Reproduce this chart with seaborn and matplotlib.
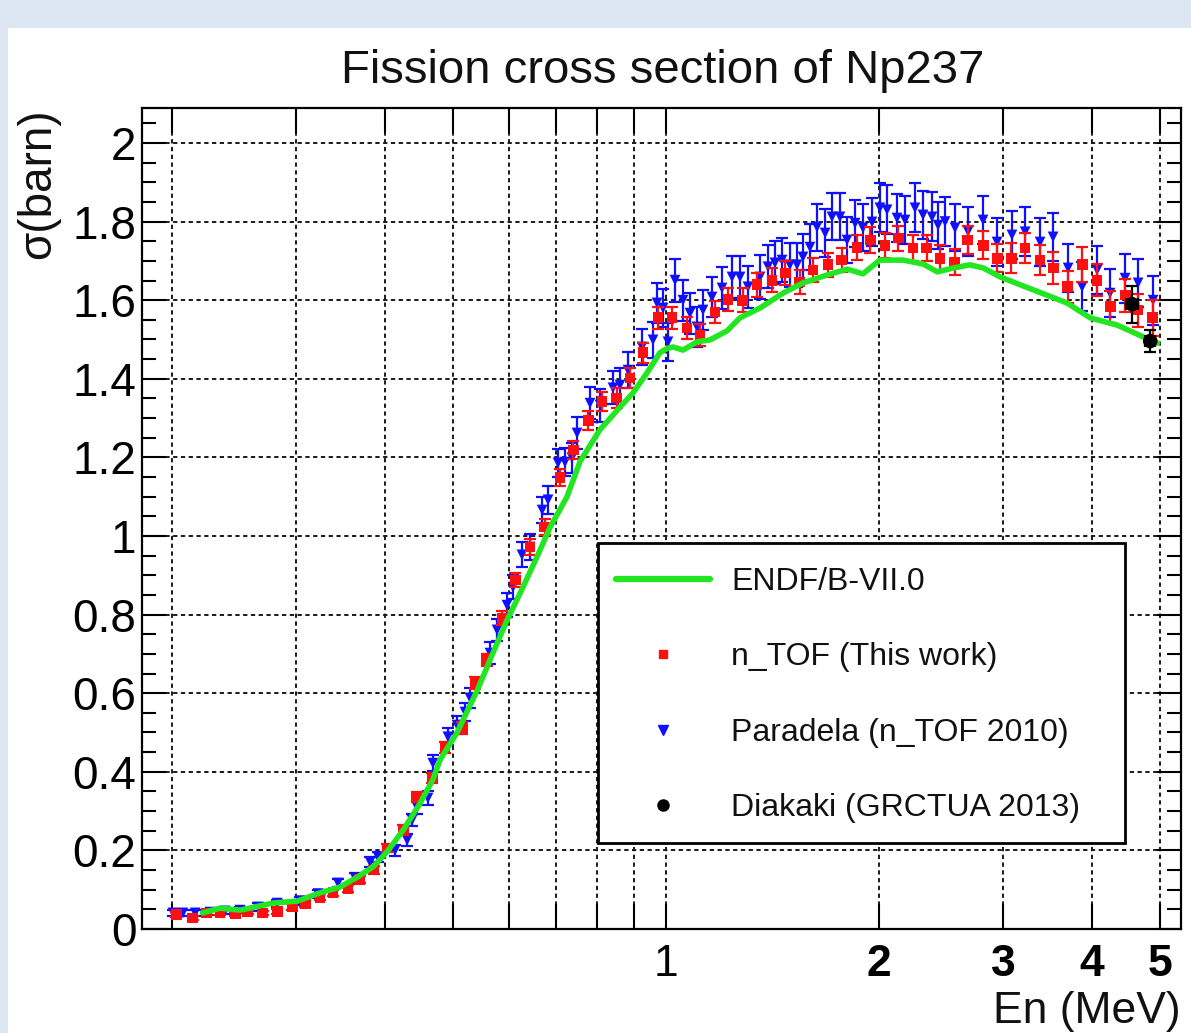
import numpy as np
import matplotlib
matplotlib.use('Agg')
import matplotlib.pyplot as plt
import seaborn as sns
from matplotlib.lines import Line2D
from matplotlib.patches import Rectangle
from matplotlib.ticker import FixedLocator, NullLocator, MultipleLocator

# ---------------- data ----------------
endf_x = [0.221, 0.234, 0.25, 0.278, 0.301, 0.324, 0.346, 0.366, 0.385, 0.403,
          0.425, 0.449, 0.468, 0.479, 0.506, 0.541, 0.569, 0.596, 0.622, 0.657,
          0.686, 0.724, 0.756, 0.806, 0.861, 0.898, 0.94, 0.98, 1.003, 1.023,
          1.057, 1.106, 1.154, 1.22, 1.272, 1.358, 1.464, 1.562, 1.689, 1.803,
          1.899, 2.006, 2.164, 2.31, 2.42, 2.55, 2.69, 2.81, 2.97, 3.31,
          3.69, 3.98, 4.34, 4.57, 4.83, 4.96]
endf_y = [0.041, 0.053, 0.048, 0.066, 0.071, 0.092, 0.107, 0.132, 0.158, 0.196,
          0.252, 0.320, 0.380, 0.430, 0.499, 0.608, 0.702, 0.786, 0.855, 0.947,
          1.023, 1.099, 1.190, 1.270, 1.328, 1.364, 1.415, 1.466, 1.477, 1.481,
          1.473, 1.494, 1.499, 1.522, 1.555, 1.580, 1.618, 1.644, 1.664, 1.679,
          1.667, 1.702, 1.702, 1.692, 1.672, 1.682, 1.690, 1.682, 1.659, 1.626,
          1.593, 1.555, 1.537, 1.519, 1.499, 1.491]

ntof_x = [0.203, 0.214, 0.224, 0.234, 0.246, 0.256, 0.269, 0.282, 0.296, 0.309,
          0.324, 0.338, 0.355, 0.369, 0.386, 0.403, 0.425, 0.444, 0.467, 0.487,
          0.515, 0.537, 0.558, 0.586, 0.612, 0.642, 0.674, 0.708, 0.739, 0.776,
          0.812, 0.852, 0.889, 0.928, 0.974, 1.02, 1.071, 1.117, 1.173, 1.224,
          1.283, 1.345, 1.412, 1.474, 1.546, 1.614, 1.695, 1.773, 1.863, 1.944,
          2.04, 2.13, 2.235, 2.336, 2.44, 2.56, 2.67, 2.81, 2.94, 3.08,
          3.22, 3.38, 3.53, 3.70, 3.88, 4.07, 4.25, 4.46, 4.65, 4.88]
ntof_y = [0.036, 0.028, 0.041, 0.041, 0.038, 0.043, 0.041, 0.045, 0.056, 0.064,
          0.081, 0.092, 0.104, 0.125, 0.150, 0.206, 0.252, 0.336, 0.384, 0.463,
          0.511, 0.626, 0.684, 0.791, 0.888, 0.972, 1.023, 1.148, 1.219, 1.293,
          1.343, 1.351, 1.402, 1.466, 1.555, 1.555, 1.529, 1.511, 1.570, 1.602,
          1.600, 1.639, 1.651, 1.669, 1.646, 1.677, 1.690, 1.702, 1.735, 1.753,
          1.740, 1.758, 1.733, 1.733, 1.707, 1.697, 1.753, 1.740, 1.707, 1.707,
          1.733, 1.702, 1.682, 1.634, 1.690, 1.651, 1.583, 1.613, 1.575, 1.555]
ntof_err = [0.006, 0.006, 0.006, 0.006, 0.006, 0.006, 0.006, 0.006, 0.007, 0.007,
            0.008, 0.008, 0.009, 0.009, 0.010, 0.010, 0.012, 0.012, 0.013, 0.014,
            0.015, 0.016, 0.016, 0.018, 0.018, 0.020, 0.020, 0.022, 0.022, 0.024,
            0.024, 0.025, 0.025, 0.026, 0.028, 0.028, 0.028, 0.028, 0.028, 0.030,
            0.030, 0.030, 0.030, 0.030, 0.030, 0.030, 0.030, 0.030, 0.032, 0.032,
            0.032, 0.032, 0.034, 0.034, 0.034, 0.034, 0.036, 0.036, 0.036, 0.038,
            0.038, 0.038, 0.040, 0.040, 0.045, 0.040, 0.040, 0.042, 0.042, 0.045]

par_x = [0.2008, 0.2073, 0.2158, 0.2265, 0.2377, 0.2497, 0.265, 0.2818, 0.3035, 0.322,
         0.3436, 0.3632, 0.3815, 0.3914, 0.4137, 0.4304, 0.4374, 0.4443, 0.4606, 0.468,
         0.4916, 0.5063, 0.5196, 0.528, 0.5637, 0.5768, 0.5957, 0.6075, 0.6255, 0.6422,
         0.668, 0.681, 0.7035, 0.7196, 0.7362, 0.7484, 0.7807, 0.8067, 0.8414, 0.8607,
         0.8836, 0.9248, 0.9585, 0.9712, 0.9903, 1.0065, 1.0297, 1.0568, 1.0812, 1.106,
         1.128, 1.1616, 1.2001, 1.2398, 1.2725, 1.306, 1.358, 1.394, 1.426, 1.459,
         1.497, 1.532, 1.562, 1.598, 1.635, 1.679, 1.717, 1.762, 1.803, 1.851,
         1.899, 1.956, 2.007, 2.054, 2.122, 2.178, 2.25, 2.309, 2.378, 2.425,
         2.481, 2.563, 2.674, 2.808, 2.939, 3.085, 3.221, 3.381, 3.527, 3.704,
         3.877, 4.071, 4.246, 4.459, 4.652, 4.885]
par_y = [0.041, 0.041, 0.041, 0.043, 0.046, 0.048, 0.056, 0.066, 0.072, 0.090,
         0.117, 0.130, 0.170, 0.183, 0.200, 0.226, 0.277, 0.310, 0.333, 0.422,
         0.489, 0.519, 0.552, 0.588, 0.702, 0.761, 0.824, 0.870, 0.952, 0.972,
         1.066, 1.092, 1.186, 1.188, 1.199, 1.262, 1.338, 1.333, 1.377, 1.384,
         1.422, 1.481, 1.499, 1.593, 1.580, 1.494, 1.651, 1.600, 1.567, 1.532,
         1.575, 1.608, 1.631, 1.659, 1.659, 1.634, 1.659, 1.685, 1.695, 1.702,
         1.690, 1.690, 1.710, 1.735, 1.786, 1.771, 1.812, 1.812, 1.753, 1.796,
         1.784, 1.799, 1.835, 1.830, 1.809, 1.804, 1.835, 1.817, 1.812, 1.791,
         1.800, 1.784, 1.775, 1.804, 1.748, 1.766, 1.774, 1.748, 1.761, 1.682,
         1.634, 1.677, 1.618, 1.656, 1.644, 1.600]
par_err = [0.008, 0.008, 0.008, 0.008, 0.008, 0.008, 0.009, 0.009, 0.010, 0.010,
           0.011, 0.012, 0.012, 0.013, 0.014, 0.015, 0.016, 0.017, 0.018, 0.020,
           0.022, 0.022, 0.024, 0.025, 0.027, 0.028, 0.030, 0.030, 0.032, 0.032,
           0.034, 0.035, 0.036, 0.036, 0.038, 0.040, 0.040, 0.042, 0.042, 0.044,
           0.045, 0.045, 0.046, 0.050, 0.048, 0.048, 0.055, 0.052, 0.052, 0.050,
           0.052, 0.052, 0.054, 0.054, 0.054, 0.054, 0.055, 0.055, 0.055, 0.056,
           0.056, 0.056, 0.058, 0.058, 0.060, 0.060, 0.060, 0.060, 0.058, 0.060,
           0.060, 0.060, 0.062, 0.062, 0.060, 0.060, 0.062, 0.062, 0.062, 0.060,
           0.062, 0.060, 0.062, 0.062, 0.060, 0.060, 0.062, 0.062, 0.062, 0.062,
           0.062, 0.062, 0.062, 0.062, 0.062, 0.062]

dia_x = [4.56, 4.84]
dia_y = [1.590, 1.496]
dia_yerr = [0.047, 0.028]
dia_xerr = [0.09, 0.08]

x_ticks = [0.2, 0.3, 0.4, 0.5, 0.6, 0.7, 0.8, 0.9, 1, 2, 3, 4, 5]
x_tick_labels = ['', '', '', '', '', '', '', '', '1', '2', '3', '4', '5']
y_ticks = [0, 0.2, 0.4, 0.6, 0.8, 1.0, 1.2, 1.4, 1.6, 1.8, 2.0]
y_tick_labels = ['0', '0.2', '0.4', '0.6', '0.8', '1', '1.2', '1.4', '1.6', '1.8', '2']

legend_labels = ['ENDF/B-VII.0', 'n_TOF (This work)', 'Paradela (n_TOF 2010)',
                 'Diakaki (GRCTUA 2013)']

# ---------------- style ----------------
sns.set_theme(style='ticks')
plt.rcParams['font.family'] = ['Liberation Sans', 'DejaVu Sans']

GREEN = '#22e622'
RED = '#ff1010'
BLUE = '#1010ff'
BAND = '#dde7f3'

W, H = 1191, 1033
fig = plt.figure(figsize=(W / 100, H / 100), dpi=100)
fig.patch.set_facecolor('white')


def fx(px):
    return px / W


def fy(py):
    return 1 - py / H


# light blue slide frame
fig.add_artist(Rectangle((0, fy(28)), 1, 28 / H, transform=fig.transFigure,
                         facecolor=BAND, edgecolor='none', zorder=0))
fig.add_artist(Rectangle((0, 0), fx(8), 1, transform=fig.transFigure,
                         facecolor=BAND, edgecolor='none', zorder=0))

ax = fig.add_axes([fx(142), fy(929), (1181 - 142) / W, (929 - 108) / H])
ax.set_facecolor('white')
ax.set_xscale('log')

# Paradela (blue, down triangles)
ax.errorbar(par_x, par_y, yerr=par_err, fmt='none', ecolor=BLUE,
            elinewidth=1.6, capsize=4.5, capthick=1.6, zorder=2)
sns.scatterplot(x=par_x, y=par_y, marker='v', color=BLUE, s=60,
                edgecolor='none', ax=ax, zorder=3, legend=False)

# n_TOF this work (red squares)
ax.errorbar(ntof_x, ntof_y, yerr=ntof_err, fmt='none', ecolor=RED,
            elinewidth=1.6, capsize=4.5, capthick=1.6, zorder=4)
sns.scatterplot(x=ntof_x, y=ntof_y, marker='s', color=RED, s=60,
                edgecolor='none', ax=ax, zorder=5, legend=False)

# ENDF/B-VII.0
sns.lineplot(x=endf_x, y=endf_y, color=GREEN, linewidth=4, sort=False,
             estimator=None, ax=ax, zorder=6)

# Diakaki (black)
ax.errorbar(dia_x, dia_y, yerr=dia_yerr, xerr=dia_xerr, fmt='none',
            ecolor='black', elinewidth=1.6, capsize=4.5, capthick=1.6, zorder=7)
sns.scatterplot(x=dia_x, y=dia_y, marker='o', color='black', s=110,
                edgecolor='none', ax=ax, zorder=8, legend=False)

ax.set_xlim(0.1815, 5.35)
ax.set_ylim(0, 2.089)

ax.xaxis.set_major_locator(FixedLocator(x_ticks))
ax.set_xticklabels(x_tick_labels)
ax.xaxis.set_minor_locator(NullLocator())
ax.set_yticks(y_ticks)
ax.set_yticklabels(y_tick_labels)
ax.yaxis.set_minor_locator(MultipleLocator(0.05))

ax.grid(True, which='major', axis='both', color='#1a1a1a',
        linestyle=(0, (2.2, 1.8)), linewidth=1.4)
ax.set_axisbelow(True)

ax.tick_params(axis='both', which='both', direction='in', top=True, right=True,
               width=1.5, color='black', labelsize=33, labelcolor='black')
ax.tick_params(axis='x', which='major', length=18, pad=11, labelsize=32)
ax.tick_params(axis='y', which='major', length=17, pad=4)
ax.tick_params(axis='y', which='minor', length=10)
for sp in ax.spines.values():
    sp.set_linewidth(1.6)
    sp.set_color('black')
for lab in ax.get_xticklabels():
    if lab.get_text() in ('2', '3', '4', '5'):
        lab.set_fontweight('bold')

ax.set_xlabel('')
ax.set_ylabel('')

# texts
fig.text(fx(663), fy(71), 'Fission cross section of Np237', ha='center',
         va='center', fontsize=34, color='#111111')
fig.text(fx(38), fy(108), 'σ(barn)', rotation=90, ha='center', va='top',
         fontsize=33, color='#111111')
fig.text(fx(1181), fy(1032), 'En (MeV)', ha='right', va='bottom',
         fontsize=32, color='#111111')

# legend box
fig.add_artist(Rectangle((fx(598), fy(843)), (1125 - 598) / W, (843 - 543) / H,
                         transform=fig.transFigure, facecolor='white',
                         edgecolor='black', linewidth=2, zorder=2))
handles = [Line2D([], [], color=GREEN, lw=4.5),
           Line2D([], [], ls='none', marker='s', color=RED, ms=6),
           Line2D([], [], ls='none', marker='v', color=BLUE, ms=7),
           Line2D([], [], ls='none', marker='o', color='black', ms=8)]
leg = fig.legend(handles, legend_labels, loc='upper left',
                 bbox_to_anchor=(fx(616), fy(567)), bbox_transform=fig.transFigure,
                 frameon=False, fontsize=23, borderpad=0, borderaxespad=0,
                 handlelength=2.94, handletextpad=0.66, labelspacing=1.42)
leg.set_zorder(5)
for t in leg.get_texts():
    t.set_color('#111111')

fig.savefig('out.png', dpi=100)
